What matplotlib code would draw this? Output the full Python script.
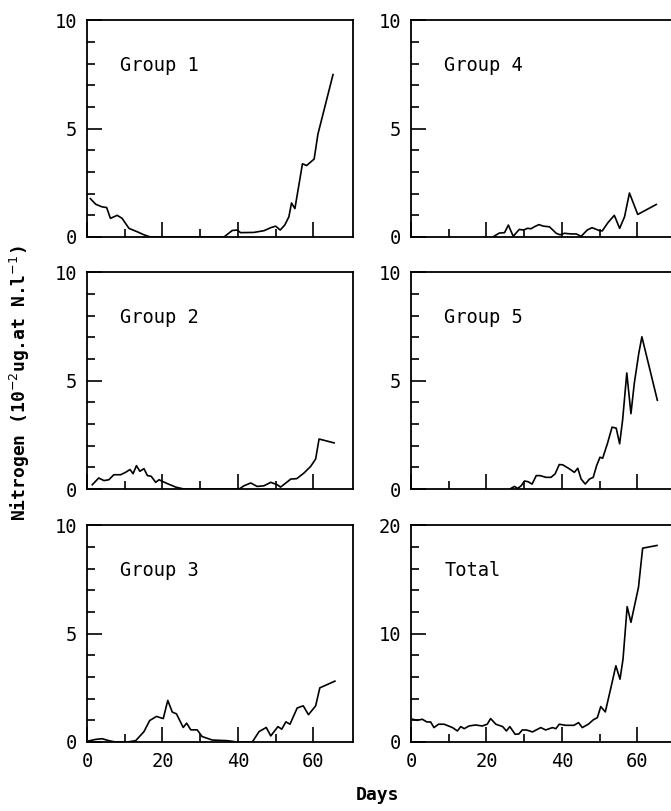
import matplotlib
matplotlib.use("Agg")
import matplotlib.pyplot as plt
from matplotlib.ticker import MultipleLocator, FixedLocator

# --- data (days, 10^-2 ug.at N/l) ---
g1_days = [0.9, 2.3, 4.0, 5.2, 6.2, 8.0, 9.3, 11.1, 13.3, 15.1, 16.8, 36.3, 38.5, 39.8,
           40.7, 44.2, 46.9, 48.7, 50.0, 51.2, 52.4, 53.5, 54.2, 55.1, 57.1, 58.2, 60.2,
           61.2, 65.2]
g1_vals = [1.77, 1.51, 1.39, 1.36, 0.86, 1.0, 0.86, 0.4, 0.24, 0.1, 0.0, 0.0, 0.3, 0.32,
           0.2, 0.21, 0.29, 0.43, 0.5, 0.32, 0.55, 0.93, 1.57, 1.31, 3.38, 3.3, 3.6,
           4.75, 7.5]

g2_days = [1.4, 3.1, 4.5, 5.8, 7.1, 8.9, 10.2, 11.4, 12.2, 13.1, 14.0, 15.1, 16.0, 17.0,
           18.2, 19.1, 20.0, 21.3, 23.5, 25.7, 40.3, 41.6, 43.4, 45.1, 46.9, 48.7, 50.4,
           51.3, 52.7, 54.0, 55.6, 57.5, 59.3, 60.6, 61.5, 65.5]
g2_vals = [0.2, 0.51, 0.39, 0.43, 0.66, 0.66, 0.77, 0.9, 0.71, 1.08, 0.82, 0.94, 0.62,
           0.59, 0.31, 0.43, 0.35, 0.25, 0.09, 0.0, 0.0, 0.15, 0.28, 0.12, 0.15, 0.31,
           0.2, 0.09, 0.28, 0.46, 0.48, 0.74, 1.05, 1.39, 2.31, 2.13]

g3_days = [0.5, 2.3, 4.0, 5.8, 7.5, 10.7, 12.9, 15.1, 16.6, 18.4, 20.2, 21.4, 22.6, 23.7,
           25.5, 26.4, 27.5, 29.2, 30.5, 33.2, 37.2, 39.8, 43.8, 45.6, 47.5, 48.7, 50.6,
           51.6, 52.7, 53.8, 55.7, 57.3, 58.7, 60.6, 61.7, 65.7]
g3_vals = [0.05, 0.12, 0.15, 0.06, 0.0, 0.0, 0.06, 0.48, 0.99, 1.18, 1.08, 1.92, 1.38,
           1.3, 0.67, 0.87, 0.56, 0.56, 0.25, 0.09, 0.06, 0.0, 0.0, 0.48, 0.67, 0.28,
           0.71, 0.59, 0.93, 0.82, 1.57, 1.67, 1.26, 1.67, 2.5, 2.81]

g4_days = [21.7, 23.4, 24.8, 25.8, 27.1, 28.7, 29.8, 30.9, 31.8, 32.7, 33.9, 35.1, 36.7,
           38.5, 39.5, 40.7, 42.4, 43.8, 45.1, 46.7, 48.0, 50.0, 50.7, 52.2, 53.9, 55.3,
           56.6, 57.9, 60.1, 65.0]
g4_vals = [0.0, 0.18, 0.2, 0.55, 0.03, 0.35, 0.32, 0.4, 0.38, 0.47, 0.57, 0.5, 0.47,
           0.17, 0.1, 0.17, 0.14, 0.14, 0.03, 0.32, 0.43, 0.29, 0.28, 0.66, 1.0, 0.4,
           0.93, 2.03, 1.04, 1.5]

g5_days = [26.5, 27.4, 28.3, 29.2, 30.1, 31.0, 32.1, 33.2, 34.2, 35.8, 37.1, 38.2, 39.3,
           40.2, 42.0, 43.3, 44.2, 45.1, 46.2, 47.3, 48.3, 49.2, 50.1, 50.8, 52.1, 53.3,
           54.4, 55.3, 56.1, 57.2, 58.3, 59.2, 60.4, 61.2, 65.3]
g5_vals = [0.03, 0.12, 0.03, 0.15, 0.37, 0.34, 0.23, 0.62, 0.62, 0.54, 0.54, 0.7, 1.13,
           1.12, 0.93, 0.77, 0.96, 0.46, 0.23, 0.46, 0.54, 1.08, 1.47, 1.42, 2.12, 2.86,
           2.81, 2.09, 3.2, 5.36, 3.48, 4.9, 6.29, 7.03, 4.1]

tot_days = [0.4, 1.7, 3.0, 4.2, 5.2, 6.1, 7.3, 8.8, 11.0, 12.3, 13.2, 14.1, 15.4, 17.1,
            18.9, 20.2, 21.1, 22.5, 24.3, 25.3, 26.2, 27.6, 28.6, 29.5, 30.6, 32.2, 34.4,
            35.7, 37.5, 38.4, 39.3, 41.0, 43.2, 44.4, 45.4, 47.0, 48.3, 49.4, 50.3, 51.5,
            53.0, 54.3, 55.4, 56.2, 57.3, 58.3, 60.3, 61.4, 65.2]
tot_vals = [2.1, 2.0, 2.1, 1.85, 1.85, 1.33, 1.64, 1.64, 1.33, 1.02, 1.42, 1.23, 1.48,
            1.57, 1.48, 1.64, 2.16, 1.64, 1.42, 1.02, 1.42, 0.71, 0.74, 1.11, 1.11, 0.93,
            1.33, 1.11, 1.33, 1.23, 1.64, 1.54, 1.54, 1.79, 1.33, 1.64, 2.04, 2.25, 3.27,
            2.78, 5.03, 7.04, 5.8, 7.65, 12.5, 11.05, 14.29, 17.9, 18.15]

# panel name, days, values, ymax, (left, bottom) in figure fraction
panels = [
    ("Group 1", g1_days, g1_vals, 10, (0.1297, 0.7078)),
    ("Group 2", g2_days, g2_vals, 10, (0.1297, 0.3970)),
    ("Group 3", g3_days, g3_vals, 10, (0.1297, 0.0851)),
    ("Group 4", g4_days, g4_vals, 10, (0.6125, 0.7078)),
    ("Group 5", g5_days, g5_vals, 10, (0.6125, 0.3970)),
    ("Total", tot_days, tot_vals, 20, (0.6125, 0.0851)),
]

plt.rcParams["font.family"] = ["DejaVu Sans Mono"]
fig = plt.figure(figsize=(6.71, 8.11), dpi=100)

for name, days, vals, ymax, (left, bottom) in panels:
    ax = fig.add_axes([left, bottom, 0.3964, 0.267])
    ax.plot(days, vals, color="black", lw=1.2)
    ax.set_xlim(0, 70.5)
    ax.set_ylim(0, ymax)
    ax.xaxis.set_major_locator(FixedLocator([0, 20, 40, 60]))
    ax.xaxis.set_minor_locator(FixedLocator([10, 30, 50]))
    ax.yaxis.set_major_locator(MultipleLocator(ymax / 2))
    ax.yaxis.set_minor_locator(MultipleLocator(ymax / 10))
    ax.tick_params(which="both", direction="in", top=False, right=False,
                   labelsize=13.5, width=1.2, pad=7)
    ax.tick_params(which="major", length=11)
    ax.tick_params(which="minor", length=6)
    if bottom > 0.1:
        ax.tick_params(axis="x", labelbottom=False)
    for s in ax.spines.values():
        s.set_linewidth(1.3)
    ax.text(0.125, 0.79, name, transform=ax.transAxes, fontsize=13.5,
            va="center", ha="left")

fig.text(0.03, 0.528, "Nitrogen (10$^{-2}$ug.at N.l$^{-1}$)", rotation=90,
         ha="center", va="center", fontsize=13, fontweight="bold")
fig.text(0.563, 0.02, "Days", ha="center", va="center", fontsize=13,
         fontweight="bold")

fig.savefig("out.png", dpi=100)
